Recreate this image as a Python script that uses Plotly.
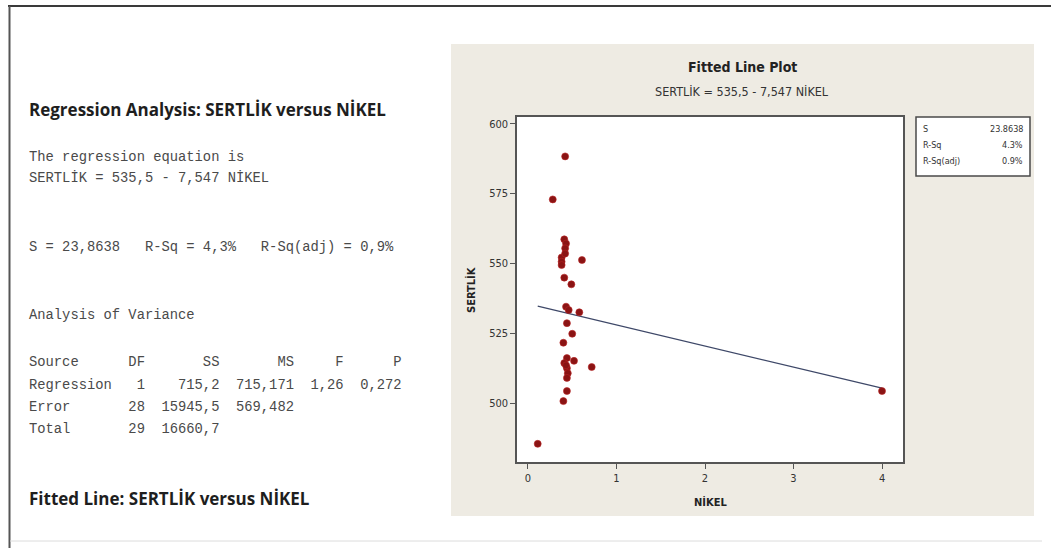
import plotly.graph_objects as go

# Hardness (SERTLİK) vs nickel content (NİKEL) observations
nikel = [0.42, 0.28, 0.41, 0.43, 0.42, 0.38, 0.38, 0.38, 0.61, 0.41,
         0.49, 0.43, 0.46, 0.58, 0.44, 0.50, 0.40, 0.44, 0.52, 0.41,
         0.44, 0.45, 0.44, 0.72, 0.44, 0.40, 0.11, 4.00, 0.42, 0.43]
sertlik = [588.3, 572.9, 558.6, 557.1, 555.4, 552.1, 550.6, 549.4, 551.2, 544.9,
           542.5, 534.5, 533.3, 532.5, 528.6, 524.8, 521.6, 516.1, 515.1, 514.3,
           512.5, 510.7, 509.0, 512.9, 504.3, 500.7, 485.4, 504.3, 553.5, 513.5]

# Fitted regression coefficients
intercept = 535.5
slope = -7.547

x_ticks = [0, 1, 2, 3, 4]
y_ticks = [500, 525, 550, 575, 600]

# Session output lines
header_text = "Regression Analysis: SERTLİK versus NİKEL"
eq_lines = ["The regression equation is", "SERTLİK = 535,5 - 7,547 NİKEL"]
s_line = "S = 23,8638   R-Sq = 4,3%   R-Sq(adj) = 0,9%"
anova_title = "Analysis of Variance"
anova_rows = [
    "Source      DF       SS       MS     F      P",
    "Regression   1    715,2  715,171  1,26  0,272",
    "Error       28  15945,5  569,482",
    "Total       29  16660,7",
]
footer_text = "Fitted Line: SERTLİK versus NİKEL"
legend_rows = [("S", "23.8638"), ("R-Sq", "4.3%"), ("R-Sq(adj)", "0.9%")]

W, H = 1051, 548
L, R, T, B = 517, 903, 117, 462  # plot-area pixel box
PW, PH = R - L, B - T


def px(x):
    return (x - L) / PW


def py(y):
    return (B - y) / PH


x_line = [min(nikel), max(nikel)]
y_line = [intercept + slope * v for v in x_line]

fig = go.Figure()
fig.add_trace(go.Scatter(x=x_line, y=y_line, mode="lines",
                         line=dict(color="#3e4868", width=1.3),
                         hoverinfo="skip"))
fig.add_trace(go.Scatter(x=nikel, y=sertlik, mode="markers",
                         marker=dict(color="#8a1414", size=7,
                                     line=dict(color="#b82424", width=0.6))))

mono = "Liberation Mono, Courier New, monospace"
sans_b = "Open Sans, DejaVu Sans, sans-serif"
panel_font = "Liberation Sans Narrow, DejaVu Sans Condensed, Roboto, sans-serif"

shapes = [
    # outer frame of the output window
    dict(type="line", xref="paper", yref="paper", x0=px(8), x1=px(W), y0=py(6), y1=py(6),
         line=dict(color="#3a3a3a", width=2)),
    dict(type="line", xref="paper", yref="paper", x0=px(9.5), x1=px(9.5), y0=py(6), y1=py(H),
         line=dict(color="#555555", width=2)),
    dict(type="line", xref="paper", yref="paper", x0=px(10), x1=px(1042), y0=py(541), y1=py(541),
         line=dict(color="#dcdcdc", width=1)),
    # graph window background
    dict(type="rect", xref="paper", yref="paper", x0=px(451), x1=px(1034), y0=py(44), y1=py(516),
         fillcolor="#eeebe3", line=dict(width=0), layer="below"),
    # plot area background
    dict(type="rect", xref="paper", yref="paper", x0=0, x1=1, y0=0, y1=1,
         fillcolor="white", line=dict(width=0), layer="below"),
    # statistics box
    dict(type="rect", xref="paper", yref="paper", x0=px(916), x1=px(1030), y0=py(117), y1=py(176),
         fillcolor="white", line=dict(color="#4a4a4a", width=1.5)),
]

ann = []


def text(x, y, s, size, family, color="#333333", bold=False, xanchor="left"):
    ann.append(dict(x=px(x), y=py(y), xref="paper", yref="paper", text=f"<b>{s}</b>" if bold else s,
                    showarrow=False, xanchor=xanchor, yanchor="middle",
                    font=dict(size=size, family=family, color=color)))


def mono_line(y, s):
    text(27, y, s.replace(" ", "&nbsp;"), 13.8, mono, "#4a4a4a")


text(27, 109, header_text, 17, sans_b, "#1e1e1e", bold=True)
mono_line(157, eq_lines[0])
mono_line(177, eq_lines[1])
mono_line(248, s_line)
mono_line(315, anova_title)
for yy, row in zip([362, 385, 407, 429], anova_rows):
    mono_line(yy, row)
text(27, 498, footer_text, 17, sans_b, "#1e1e1e", bold=True)

# graph titles
text(742, 67, "Fitted Line Plot", 14, panel_font, "#222222", bold=True, xanchor="center")
text(742, 91, "SERTLİK = 535,5 - 7,547 NİKEL", 12.5, panel_font, "#333333", xanchor="center")
text(710, 502, "NİKEL", 11, panel_font, "#222222", bold=True, xanchor="center")
ann.append(dict(x=px(471), y=py(290), xref="paper", yref="paper", text="<b>SERTLİK</b>",
                showarrow=False, textangle=-90, xanchor="center", yanchor="middle",
                font=dict(size=11, family=panel_font, color="#222222")))

for i, (k, v) in enumerate(legend_rows):
    yy = 129 + i * 16
    text(921, yy, k, 9, panel_font, "#333333")
    text(1025, yy, v, 9, panel_font, "#333333", xanchor="right")

fig.update_layout(
    width=W, height=H,
    margin=dict(l=L, r=W - R, t=T, b=H - B, pad=0),
    paper_bgcolor="white",
    plot_bgcolor="rgba(0,0,0,0)",
    showlegend=False,
    shapes=shapes,
    annotations=ann,
    xaxis=dict(range=[-0.124, 4.237], tickvals=x_ticks, ticks="outside", ticklen=5,
               tickcolor="#555555", showgrid=False, zeroline=False, showline=True,
               linecolor="#555555", linewidth=1.5, mirror=True,
               tickfont=dict(size=11, family=panel_font, color="#333333")),
    yaxis=dict(range=[478.9, 602.4], tickvals=y_ticks, ticks="outside", ticklen=5,
               tickcolor="#555555", showgrid=False, zeroline=False, showline=True,
               linecolor="#555555", linewidth=1.5, mirror=True,
               tickfont=dict(size=11, family=panel_font, color="#333333")),
)

fig.write_html("out.html")
